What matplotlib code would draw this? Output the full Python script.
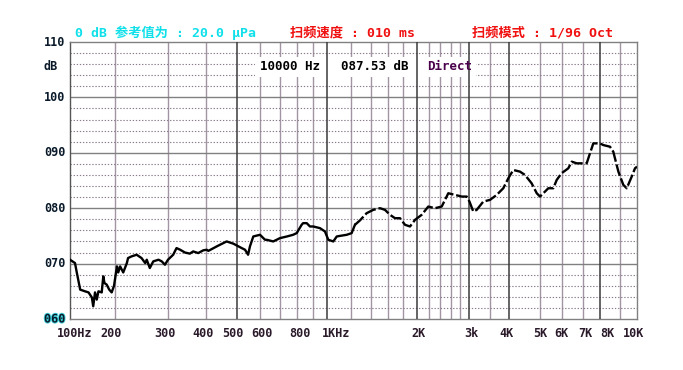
import numpy as np
import matplotlib
matplotlib.use("Agg")
import matplotlib.pyplot as plt
import matplotlib.patheffects as pe
from matplotlib.transforms import ScaledTranslation, blended_transform_factory

MONO = ["DejaVu Sans Mono", "Noto Sans CJK SC"]

# frequency response, 1/96 oct sweep
freq_hz = [100, 108, 111, 117, 126, 133, 140, 143, 147, 151, 155, 163, 167, 170,
           176, 183, 190, 197, 203, 205, 208, 213, 219, 221, 227, 236, 245, 252,
           255, 261, 268, 279, 286, 293, 300, 312, 320, 329, 341, 354, 363, 377,
           392, 402, 407, 432, 464, 487, 519, 533, 546, 554, 569, 600, 624, 632,
           665, 701, 740, 776, 798, 828, 837, 860, 881, 903, 949, 985, 1010, 1050,
           1078, 1105, 1164, 1209, 1240, 1289, 1357, 1428, 1504, 1563, 1625, 1688,
           1754, 1824, 1895, 1970, 2074, 2184, 2301, 2425, 2553, 2691, 2835, 2947,
           3010, 3094, 3171, 3325, 3489, 3661, 3839, 3980, 4125, 4330, 4488, 4707,
           4884, 5000, 5211, 5356, 5583, 5743, 5975, 6283, 6445, 6685, 7205, 7394,
           7590, 8000, 8160, 8497, 8667, 8938, 9209, 9400, 9685, 9880, 10000]
level_db = [70.7, 70.1, 68.4, 65.3, 65.0, 64.8, 63.9, 62.3, 64.8, 63.5, 65.0, 64.8, 67.7, 66.5,
            66.2, 65.3, 64.8, 66.0, 69.5, 68.4, 69.5, 68.4, 70.1, 71.0, 71.3, 71.6, 71.0, 70.1,
            70.7, 69.2, 70.4, 70.7, 70.4, 69.8, 70.7, 71.6, 72.8, 72.5, 72.0, 71.8, 72.2, 71.9,
            72.4, 72.5, 72.3, 73.1, 74.0, 73.6, 72.8, 72.5, 71.6, 73.1, 74.9, 75.2, 74.3, 74.3,
            74.0, 74.6, 74.9, 75.2, 75.5, 77.0, 77.3, 77.3, 76.7, 76.7, 76.4, 75.8, 74.3, 74.0,
            74.9, 75.0, 75.2, 75.5, 77.0, 77.8, 79.1, 79.7, 80.0, 79.7, 78.8, 78.2,
            78.2, 77.0, 76.7, 77.9, 78.8, 80.3, 80.0, 80.3, 82.7, 82.4, 82.1, 82.1,
            81.2, 79.4, 79.7, 81.2, 81.5, 82.4, 83.6, 85.4, 86.9, 86.6, 86.0, 84.5,
            82.7, 82.1, 83.0, 83.6, 83.6, 85.1, 86.3, 87.2, 88.4, 88.1, 88.1, 89.9,
            91.7, 91.7, 91.4, 91.1, 90.2, 86.6, 84.2, 83.6, 85.7, 87.2, 87.5]

tick_hz = [100, 200, 300, 400, 500, 600, 800, 1000, 2000, 3000, 4000, 5000, 6000, 7000, 8000, 10000]
tick_labels = ["100Hz", "200", "300", "400", "500", "600", "800", "1KHz",
               "2K", "3k", "4K", "5K", "6K", "7K", "8K", "10K"]
tick_dx = [5, -4, -3, -3, -4, 2, 3, 9, 1, 2, -3, 0, -1, 2, 7, -3]   # pixel nudges

light_grid_hz = [200, 300, 400, 600, 700, 800, 900, 1200, 1400, 1600, 1800,
                 2200, 2400, 2600, 2800, 3500, 5000, 6000, 7000, 9000]
dark_grid_hz = [500, 1000, 2000, 3000, 4000, 8000]

y_labels = ["110", "dB", "100", "090", "080", "070", "060"]
y_label_db = [110, 105.5, 100, 90, 80, 70, 60]

# the analyser screen is not a clean log axis -> piecewise log mapping
anchor_pos = [70, 115, 168, 206, 237, 260, 297, 327, 417, 469, 509, 540, 562, 583, 600, 637]
anchor_log = np.log10(tick_hz)


def fwd(f):
    f = np.asarray(f, dtype=float)
    return np.interp(np.log10(np.maximum(f, 1.0)), anchor_log, anchor_pos)


def inv(p):
    return 10 ** np.interp(np.asarray(p, dtype=float), anchor_pos, anchor_log)


W, H = 683, 370
fig = plt.figure(figsize=(W / 100, H / 100), dpi=100)
fig.patch.set_facecolor("white")
ax = fig.add_axes([70 / W, 1 - 319 / H, 567 / W, 277 / H])
ax.set_xscale("function", functions=(fwd, inv))
ax.set_xlim(100, 10000)
ax.set_ylim(60, 110)

C_LIGHT = "#a394a3"
C_DARK = "#3a3a3a"
C_MAJ = "#808080"
C_DOT = "#8a7a8a"

for f in light_grid_hz:
    ax.axvline(f, color=C_LIGHT, lw=1.0, zorder=1)
for v in range(62, 110, 2):
    if v % 10:
        ax.axhline(v, color=C_DOT, lw=0.8, ls=(0, (1.2, 1.6)), zorder=1)
for v in [70, 80, 90, 100]:
    ax.axhline(v, color=C_MAJ, lw=1.0, zorder=1)

# white band behind the cursor readout
ax.axhspan(103.7, 107.3, xmin=(255 - 70) / 567, xmax=(476 - 70) / 567,
           color="white", lw=0, zorder=2)

for f in dark_grid_hz:
    ax.axvline(f, color=C_DARK, lw=1.1, zorder=3)

for s in ax.spines.values():
    s.set_color(C_MAJ)
    s.set_linewidth(1.0)
ax.spines["left"].set_color("#555555")

# low end drawn solid, the sparser high end shows as a broken trace on screen
split = freq_hz.index(1240)
ax.plot(freq_hz[:split + 1], level_db[:split + 1], color="black", lw=1.7, zorder=5)
ax.plot(freq_hz[split:], level_db[split:], color="black", lw=1.7, zorder=5,
        ls=(0, (5, 1.2)))

ax.set_yticks([])
ax.set_xticks(tick_hz, tick_labels)
ax.xaxis.set_minor_locator(matplotlib.ticker.NullLocator())
ax.tick_params(axis="x", length=0, pad=6, labelsize=8.5, labelcolor="#2a1a2a")
for lab, dx in zip(ax.get_xticklabels(), tick_dx):
    lab.set_fontfamily(MONO)
    lab.set_fontweight("bold")
    lab.set_transform(lab.get_transform() + ScaledTranslation(dx / 100, 0, fig.dpi_scale_trans))

ytr = blended_transform_factory(fig.transFigure, ax.transData)
for txt, v in zip(y_labels, y_label_db):
    t = ax.text(44 / W, v, txt, transform=ytr, ha="left", va="center",
                fontsize=8.5, fontweight="bold", family=MONO, color="#0a1a2a")
    if txt == "060":
        t.set_path_effects([pe.withStroke(linewidth=1.3, foreground="#40d0d8")])

# header
fig.text(75 / W, 1 - 33 / H, "0 dB 参考值为 : 20.0 μPa", ha="left", va="center",
         fontsize=9.5, fontweight="bold", family=MONO, color="#10e0ea")
fig.text(290 / W, 1 - 33 / H, "扫频速度 : 010 ms", ha="left", va="center",
         fontsize=9.5, fontweight="bold", family=MONO, color="#f01010")
fig.text(472 / W, 1 - 33 / H, "扫频模式 : 1/96 Oct", ha="left", va="center",
         fontsize=9.5, fontweight="bold", family=MONO, color="#f01010")

# cursor readout
fig.text(260 / W, 1 - 67 / H, "10000 Hz", ha="left", va="center",
         fontsize=9, fontweight="bold", family=MONO, color="black", zorder=6)
fig.text(341 / W, 1 - 67 / H, "087.53 dB", ha="left", va="center",
         fontsize=9, fontweight="bold", family=MONO, color="black", zorder=6)
fig.text(427 / W, 1 - 67 / H, "Direct", ha="left", va="center",
         fontsize=9, fontweight="bold", family=MONO, color="#4a004a", zorder=6)

fig.savefig("out.png", dpi=100)
